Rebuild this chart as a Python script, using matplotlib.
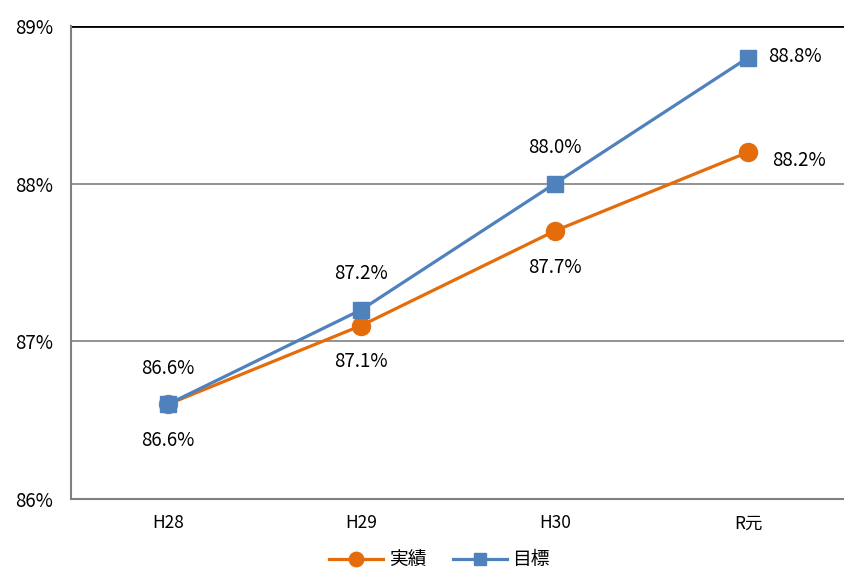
import matplotlib.pyplot as plt

plt.rcParams['font.family'] = ['Noto Sans CJK JP', 'DejaVu Sans']

# data
categories = ["H28", "H29", "H30", "R元"]
actual = [86.6, 87.1, 87.7, 88.2]   # 実績
target = [86.6, 87.2, 88.0, 88.8]   # 目標
yticks = [86, 87, 88, 89]

orange = '#E46C0A'
blue = '#4F81BD'

fig = plt.figure(figsize=(8.45, 5.7), dpi=100)
ax = fig.add_axes([0.084, 0.1246, 0.916, 0.8298])

x = list(range(len(categories)))
ax.plot(x, actual, color=orange, lw=2.3, marker='o', ms=13, label="実績", zorder=3)
ax.plot(x, target, color=blue, lw=2.3, marker='s', ms=11.5, label="目標", zorder=4)

# data labels
fs = 13.5
for i, v in enumerate(actual):
    if i == len(actual) - 1:
        ax.annotate(f"{v:.1f}%", (i, v), xytext=(17, -6), textcoords='offset points',
                    ha='left', va='center', fontsize=fs)
    else:
        ax.annotate(f"{v:.1f}%", (i, v), xytext=(0, -26), textcoords='offset points',
                    ha='center', va='center', fontsize=fs)
for i, v in enumerate(target):
    if i == len(target) - 1:
        ax.annotate(f"{v:.1f}%", (i, v), xytext=(14, 1), textcoords='offset points',
                    ha='left', va='center', fontsize=fs)
    else:
        ax.annotate(f"{v:.1f}%", (i, v), xytext=(0, 26), textcoords='offset points',
                    ha='center', va='center', fontsize=fs)

ax.set_xlim(-0.5, 3.5)
ax.set_ylim(86, 89)
ax.set_yticks(yticks)
ax.set_yticklabels([f"{t}%" for t in yticks], fontsize=13.5)
ax.set_xticks(x)
ax.set_xticklabels(categories, fontsize=12.5)
ax.tick_params(length=0)
ax.tick_params(axis='y', pad=13)
ax.tick_params(axis='x', pad=11)

ax.grid(axis='y', color='#808080', lw=1.2)
ax.axhline(89, color='black', lw=2, zorder=2)
ax.spines['top'].set_visible(False)
ax.spines['right'].set_visible(False)
ax.spines['left'].set_color('#808080')
ax.spines['left'].set_linewidth(1.5)
ax.spines['bottom'].set_color('#808080')
ax.spines['bottom'].set_linewidth(1.5)

fig.legend(loc='lower center', bbox_to_anchor=(0.52, -0.03), ncol=2, frameon=False,
           fontsize=13.5, handlelength=2.9, handletextpad=0.3, columnspacing=1.4,
           markerscale=0.8)

fig.savefig("out.png", dpi=100)
